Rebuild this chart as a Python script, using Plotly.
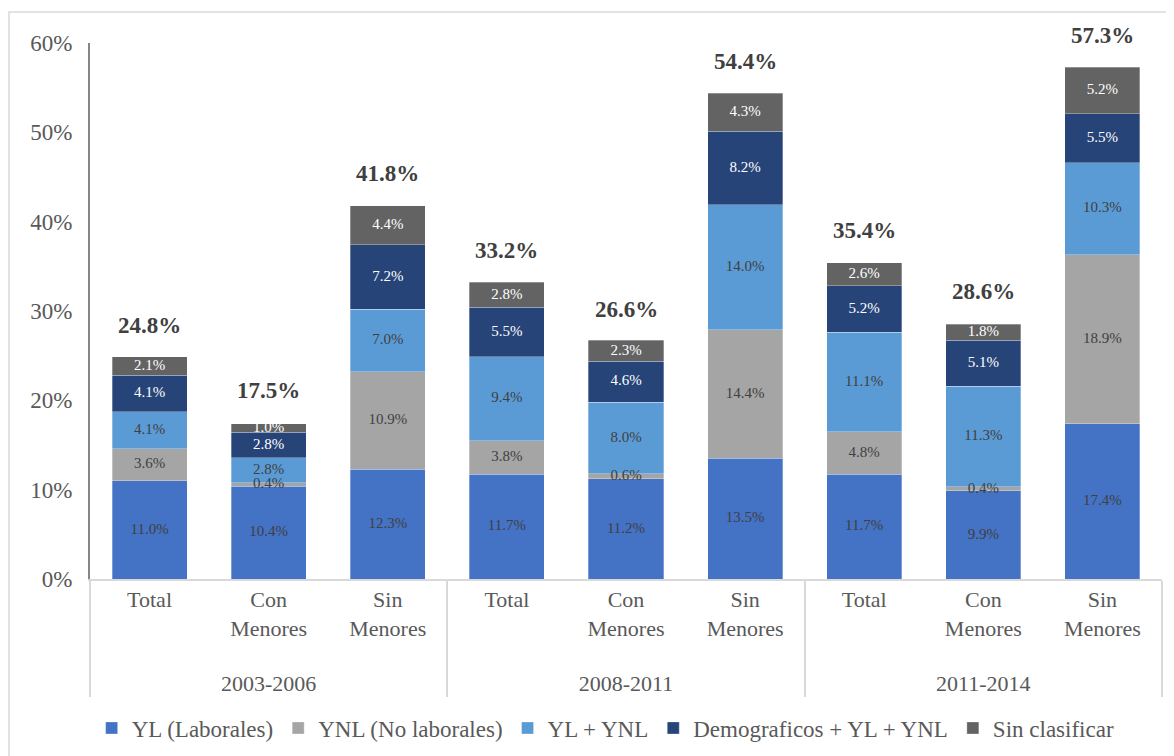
import plotly.graph_objects as go

periods = ["2003-2006", "2008-2011", "2011-2014"]
subcats = ["Total", "Con<br>Menores", "Sin<br>Menores<br>&nbsp;"]

series_names = ["YL (Laborales)", "YNL (No laborales)", "YL + YNL",
                "Demograficos + YL + YNL", "Sin clasificar"]
yl = [11.0, 10.4, 12.3, 11.7, 11.2, 13.5, 11.7, 9.9, 17.4]
ynl = [3.6, 0.4, 10.9, 3.8, 0.6, 14.4, 4.8, 0.4, 18.9]
yl_ynl = [4.1, 2.8, 7.0, 9.4, 8.0, 14.0, 11.1, 11.3, 10.3]
demo = [4.1, 2.8, 7.2, 5.5, 4.6, 8.2, 5.2, 5.1, 5.5]
sin_clas = [2.1, 1.0, 4.4, 2.8, 2.3, 4.3, 2.6, 1.8, 5.2]
totals = [24.8, 17.5, 41.8, 33.2, 26.6, 54.4, 35.4, 28.6, 57.3]

colors = ["#4472C4", "#A5A5A5", "#5B9BD5", "#264478", "#636363"]
text_colors = ["#404040", "#404040", "#404040", "#FFFFFF", "#FFFFFF"]

x_outer = [p for p in periods for _ in subcats]
x_inner = [s for _ in periods for s in subcats]
x = [x_outer, x_inner]

FONT = "Liberation Serif, Times New Roman, serif"
all_series = [yl, ynl, yl_ynl, demo, sin_clas]

fig = go.Figure()
for name, vals, c in zip(series_names, all_series, colors):
    fig.add_trace(go.Bar(
        x=x, y=vals, name=name,
        marker=dict(color=c, line=dict(color="rgba(255,255,255,0.5)", width=0.6)),
        hoverinfo="skip",
    ))

# segment labels drawn on top of all bars
base = [0.0] * len(yl)
for vals, tc in zip(all_series, text_colors):
    mids = [b + v / 2 for b, v in zip(base, vals)]
    fig.add_trace(go.Scatter(
        x=x, y=mids, mode="text", text=[f"{v:.1f}%" for v in vals],
        textposition="middle center", showlegend=False, hoverinfo="skip",
        textfont=dict(family=FONT, size=15, color=tc), cliponaxis=False,
    ))
    base = [b + v for b, v in zip(base, vals)]

for xo, xi, t in zip(x_outer, x_inner, totals):
    fig.add_annotation(x=[xo, xi], y=t, text=f"<b>{t:.1f}%</b>", showarrow=False,
                       yanchor="middle", yshift=32,
                       font=dict(family=FONT, size=23, color="#404040"))

# page has an 8px body margin: figure is 8px smaller and margins shifted accordingly
fig.update_layout(
    barmode="stack", bargap=0.37,
    width=1166, height=748,
    margin=dict(l=82, r=12, t=35, b=177, autoexpand=False),
    paper_bgcolor="white", plot_bgcolor="white",
    font=dict(family=FONT, color="#595959", size=22),
    showlegend=True,
    legend=dict(orientation="h", x=0.481, xanchor="center", y=-0.278, yanchor="middle",
                font=dict(family=FONT, size=23, color="#595959"), traceorder="normal",
                itemwidth=30),
    xaxis=dict(type="multicategory", showline=True, linecolor="#D9D9D9", linewidth=1.5,
               showdividers=True, dividercolor="#D9D9D9", dividerwidth=1.5,
               tickfont=dict(family=FONT, size=22, color="#595959"), ticks=""),
    yaxis=dict(range=[0, 60], dtick=10, ticksuffix="%", showgrid=False,
               showline=True, linecolor="#868686", linewidth=2, zeroline=False,
               tickfont=dict(family=FONT, size=23, color="#595959"), ticks="",
               ticklabelstandoff=11),
    shapes=[dict(type="rect", xref="paper", yref="paper",
                 x0=(9 - 90) / 1072, x1=(1185 - 90) / 1072,
                 y0=(579 - 770) / 536, y1=(579 - 12) / 536,
                 line=dict(color="#D9D9D9", width=1.5), fillcolor="rgba(0,0,0,0)", layer="below")],
)

fig.write_html("out.html")
